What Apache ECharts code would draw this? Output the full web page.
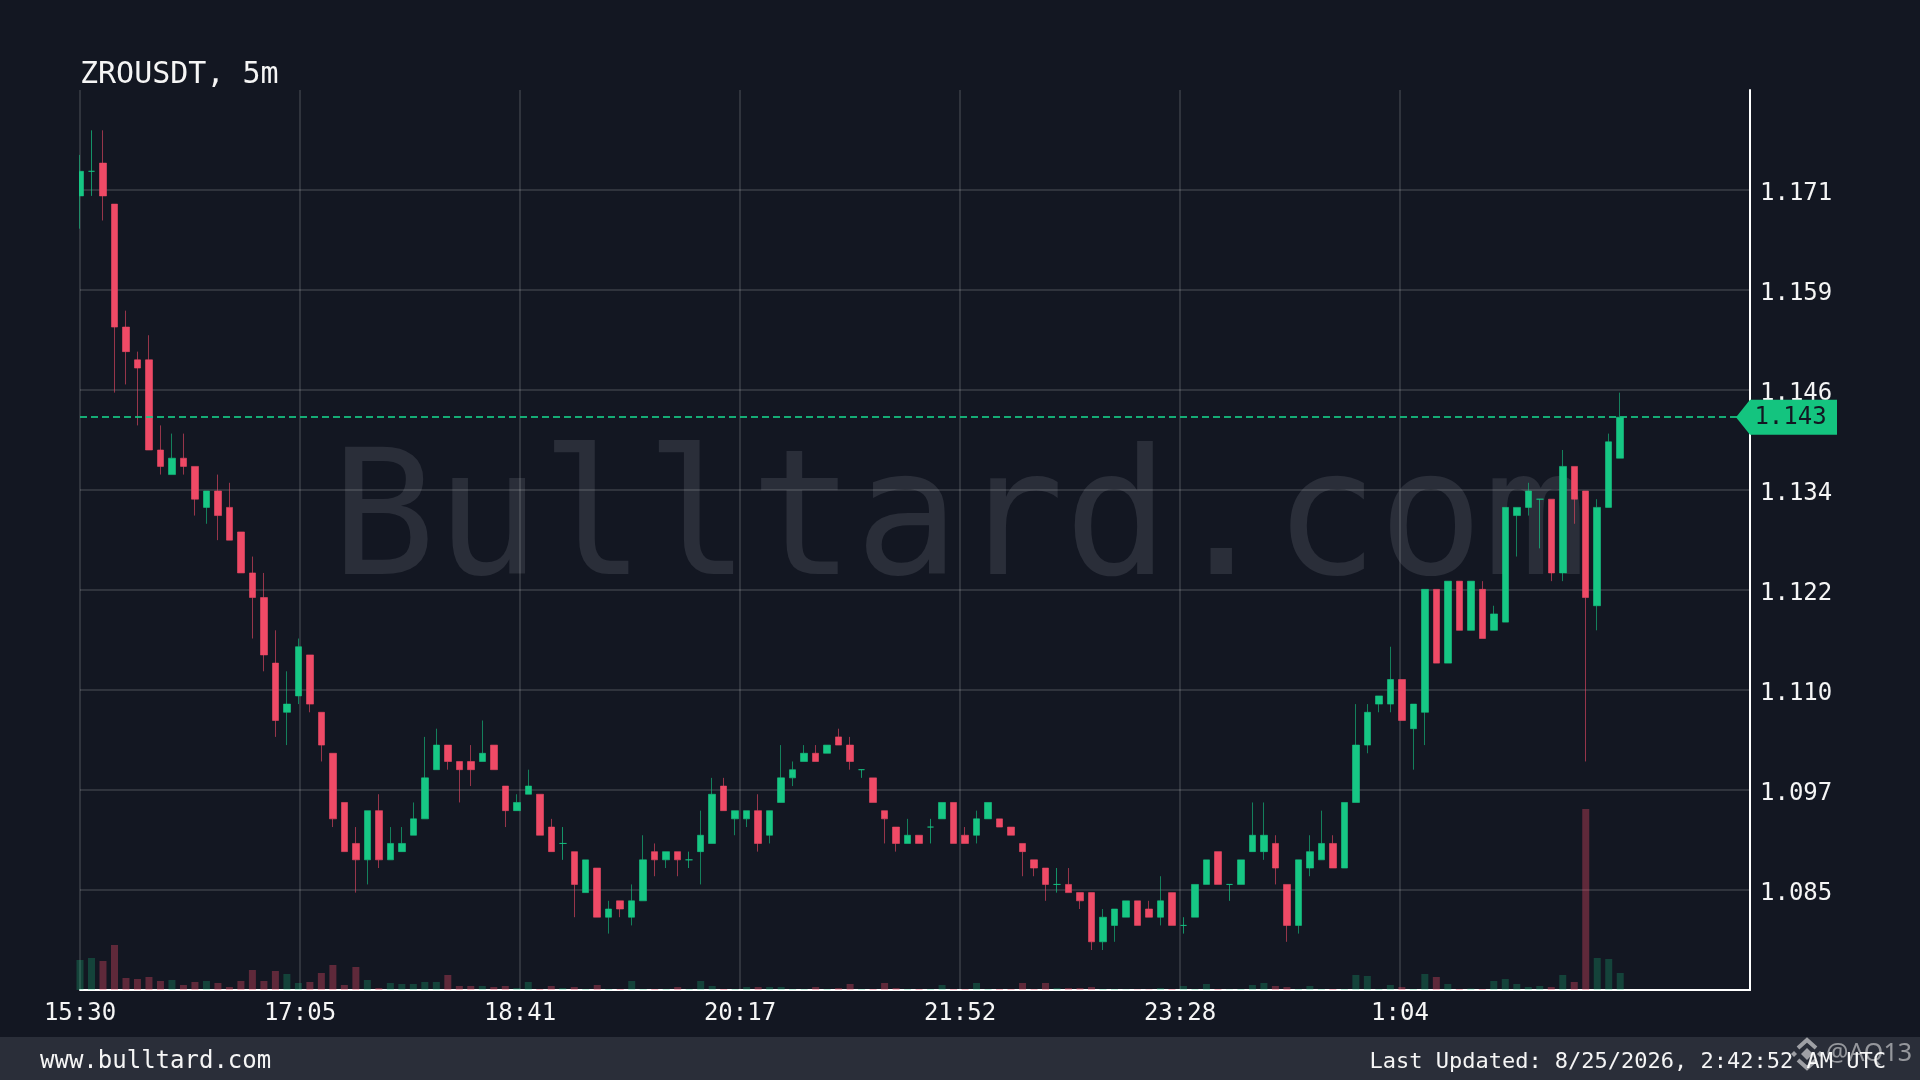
<!DOCTYPE html>
<html>
<head>
<meta charset="utf-8">
<style>html,body{margin:0;padding:0;background:#131722}#c{width:1920px;height:1080px}</style>
<script src="https://cdn.jsdelivr.net/npm/echarts@6/dist/echarts.min.js"></script>
</head>
<body>
<div id="c"></div>
<script>
const symbolTitle = 'ZROUSDT, 5m';
const watermark = 'Bulltard.com';
const footerLeft = 'www.bulltard.com';
const footerRight = 'Last Updated: 8/25/2026, 2:42:52 AM UTC';
const footerTag = '@AQ13';

const opens = [
1.170,1.173,1.174,1.169,1.154,1.150,1.150,1.139,1.136,1.138,
1.137,1.132,1.134,1.132,1.129,1.124,1.121,1.113,1.107,1.109,
1.114,1.107,1.102,1.096,1.091,1.089,1.095,1.089,1.090,1.092,
1.094,1.100,1.103,1.101,1.101,1.101,1.103,1.098,1.095,1.097,
1.097,1.093,1.091,1.090,1.085,1.088,1.082,1.084,1.082,1.084,
1.090,1.089,1.090,1.089,1.090,1.091,1.098,1.094,1.094,1.095,
1.092,1.096,1.099,1.101,1.102,1.102,1.104,1.103,1.100,1.099,
1.095,1.093,1.091,1.092,1.093,1.094,1.096,1.092,1.092,1.094,
1.094,1.093,1.091,1.089,1.088,1.086,1.086,1.085,1.085,1.079,
1.081,1.082,1.084,1.083,1.082,1.085,1.081,1.082,1.086,1.090,
1.086,1.086,1.090,1.090,1.091,1.086,1.081,1.088,1.089,1.091,
1.088,1.096,1.103,1.108,1.108,1.111,1.105,1.107,1.122,1.113,
1.123,1.117,1.122,1.117,1.118,1.131,1.132,1.133,1.133,1.124,
1.137,1.134,1.120,1.132,1.138];
const closes = [
1.173,1.173,1.170,1.154,1.151,1.149,1.139,1.137,1.138,1.137,
1.133,1.134,1.131,1.128,1.124,1.121,1.114,1.106,1.108,1.115,
1.108,1.103,1.094,1.090,1.089,1.095,1.089,1.091,1.091,1.094,
1.099,1.103,1.101,1.100,1.100,1.102,1.100,1.095,1.096,1.098,
1.092,1.090,1.091,1.086,1.089,1.082,1.083,1.083,1.084,1.089,
1.089,1.090,1.089,1.089,1.092,1.097,1.095,1.095,1.095,1.091,
1.095,1.099,1.100,1.102,1.101,1.103,1.103,1.101,1.100,1.096,
1.094,1.091,1.092,1.091,1.093,1.096,1.091,1.091,1.094,1.096,
1.093,1.092,1.090,1.088,1.086,1.086,1.085,1.084,1.079,1.082,
1.083,1.084,1.081,1.082,1.084,1.081,1.081,1.086,1.089,1.086,
1.086,1.089,1.092,1.092,1.088,1.081,1.089,1.090,1.091,1.088,
1.096,1.103,1.107,1.109,1.111,1.106,1.108,1.122,1.113,1.123,
1.117,1.123,1.116,1.119,1.132,1.132,1.134,1.133,1.124,1.137,
1.133,1.121,1.132,1.140,1.143];
const lows = [
1.166,1.170,1.167,1.146,1.147,1.142,1.139,1.136,1.136,1.136,
1.131,1.130,1.128,1.128,1.124,1.116,1.112,1.104,1.103,1.108,
1.107,1.101,1.093,1.090,1.085,1.086,1.088,1.089,1.090,1.092,
1.094,1.100,1.100,1.096,1.098,1.101,1.100,1.093,1.095,1.097,
1.092,1.090,1.089,1.082,1.085,1.082,1.080,1.082,1.081,1.084,
1.087,1.088,1.087,1.088,1.086,1.091,1.095,1.092,1.093,1.090,
1.091,1.096,1.098,1.101,1.101,1.102,1.103,1.100,1.099,1.096,
1.091,1.090,1.091,1.091,1.091,1.094,1.091,1.091,1.091,1.094,
1.093,1.092,1.087,1.087,1.084,1.085,1.085,1.083,1.078,1.078,
1.079,1.082,1.081,1.082,1.081,1.081,1.080,1.082,1.086,1.086,
1.084,1.086,1.090,1.089,1.086,1.079,1.080,1.087,1.089,1.088,
1.088,1.096,1.102,1.107,1.107,1.106,1.100,1.103,1.113,1.113,
1.117,1.117,1.116,1.117,1.118,1.126,1.131,1.127,1.123,1.123,
1.130,1.101,1.117,1.132,1.138];
const highs = [
1.175,1.178,1.178,1.169,1.156,1.151,1.153,1.142,1.141,1.141,
1.137,1.134,1.136,1.135,1.129,1.126,1.124,1.117,1.112,1.116,
1.114,1.107,1.102,1.096,1.093,1.095,1.097,1.093,1.093,1.096,
1.104,1.105,1.103,1.101,1.103,1.106,1.103,1.098,1.097,1.100,
1.097,1.094,1.093,1.090,1.089,1.088,1.084,1.084,1.086,1.092,
1.091,1.090,1.090,1.090,1.095,1.099,1.099,1.095,1.095,1.097,
1.095,1.103,1.101,1.103,1.103,1.103,1.105,1.104,1.100,1.099,
1.095,1.093,1.094,1.092,1.094,1.096,1.096,1.093,1.095,1.096,
1.094,1.093,1.091,1.089,1.088,1.088,1.088,1.085,1.085,1.083,
1.083,1.084,1.084,1.084,1.087,1.085,1.082,1.086,1.089,1.090,
1.086,1.089,1.096,1.096,1.092,1.086,1.089,1.092,1.095,1.092,
1.096,1.108,1.108,1.109,1.115,1.111,1.108,1.122,1.122,1.123,
1.123,1.123,1.123,1.120,1.132,1.132,1.135,1.133,1.133,1.139,
1.137,1.134,1.133,1.141,1.146];
const volumes = [
30,32,29,45,12,11,13,9,10,5,
8,9,7,3,9,20,9,19,16,7,
8,17,25,5,23,10,2,7,6,6,
8,8,15,4,4,4,3,4,2,8,
1,4,2,3,1,5,1,1,9,1,
1,1,3,1,9,4,1,1,3,3,
3,3,1,1,3,1,2,6,1,1,
7,2,1,1,1,5,1,1,7,1,
1,1,7,1,7,2,2,2,3,1,
1,0.5,0.5,0.5,2,1,4,1,6,1,
0.5,1,5,7,4,3,1,4,1,1,
1,15,14,1,5,3,1,16,13,6,
1,1.5,1,9,11,6,3,4,3,15,
8,181,32,31,17];

const xTickValues = [0,95.7,191.4,287.1,382.8,478.5,574.2];
const xTickLabels = ['15:30','17:05','18:41','20:17','21:52','23:28','1:04'];
const yTickValues = [1.0853,1.0975,1.1097,1.1219,1.1341,1.1463,1.1585,1.1707];
const yTickLabels = ['1.085','1.097','1.110','1.122','1.134','1.146','1.159','1.171'];
const lastPrice = 1.143;
const candleMinutes = 5;

const GREEN = '#16c784';
const RED = '#ef4a66';
const BG = '#131722';
const FONT = '"DejaVu Sans Mono", monospace';

const candleData = opens.map((o, i) => [i * candleMinutes, o, closes[i], lows[i], highs[i]]);
const volumeData = volumes.map((v, i) => ({
  value: [i * candleMinutes, v],
  itemStyle: { color: closes[i] >= opens[i] ? 'rgba(22,199,132,0.25)' : 'rgba(239,74,102,0.35)' }
}));

const chart = echarts.init(document.getElementById('c'), null, { width: 1920, height: 1080, renderer: 'canvas' });
chart.setOption({
  animation: false,
  backgroundColor: BG,
  title: {
    text: symbolTitle, left: 75, top: 55,
    textStyle: { color: '#f5f5f5', fontFamily: FONT, fontSize: 30, fontWeight: 'normal' }
  },
  grid: { left: 80, top: 90, width: 1670, height: 900, containLabel: false },
  xAxis: {
    type: 'value', min: 0, max: 726.45,
    axisLine: { show: true, onZero: false, lineStyle: { color: '#ffffff', width: 2 } },
    axisTick: { show: false, customValues: xTickValues },
    axisLabel: {
      customValues: xTickValues, color: '#f5f5f5', fontFamily: FONT, fontSize: 24, margin: 12,
      formatter: v => xTickLabels[xTickValues.indexOf(v)]
    },
    splitLine: { show: true, lineStyle: { color: 'rgba(255,255,255,0.17)', width: 1.5 } }
  },
  yAxis: [{
    type: 'value', position: 'right', min: 1.07312, max: 1.18292, scale: true,
    axisLine: { show: true, onZero: false, lineStyle: { color: '#ffffff', width: 2 } },
    axisTick: { show: false, customValues: yTickValues },
    axisLabel: {
      customValues: yTickValues, color: '#f5f5f5', fontFamily: FONT, fontSize: 24, margin: 10, align: 'left',
      verticalAlign: 'top', lineHeight: 8,
      formatter: v => yTickLabels[yTickValues.indexOf(v)]
    },
    splitLine: { show: true, lineStyle: { color: 'rgba(255,255,255,0.17)', width: 1.5 } }
  }, {
    type: 'value', min: 0, max: 900, show: false, splitLine: { show: false }
  }],
  graphic: [
    { type: 'text', z: -5, x: 331, y: 529, style: { text: watermark, fill: '#2a2e39', font: '174px ' + FONT, textAlign: 'left', textVerticalAlign: 'middle' } },
    { type: 'rect', z: 5, shape: { x: 60, y: 120, width: 19, height: 120 }, style: { fill: BG } },
    { type: 'rect', z: 5, shape: { x: 0, y: 1037, width: 1920, height: 43 }, style: { fill: '#2a2e39' } },
    { type: 'text', z: 6, x: 40, y: 1062, style: { text: footerLeft, fill: '#f5f5f5', font: '24px ' + FONT, textAlign: 'left', textVerticalAlign: 'middle' } },
    { type: 'text', z: 6, x: 1886, y: 1062, style: { text: footerRight, fill: '#f5f5f5', font: '22px ' + FONT, textAlign: 'right', textVerticalAlign: 'middle' } },
    { type: 'text', z: 7, x: 1912, y: 1054, style: { text: footerTag, fill: 'rgba(255,255,255,0.5)', font: '25px "Noto Sans", sans-serif', textAlign: 'right', textVerticalAlign: 'middle' } },
    { type: 'polygon', z: 7, shape: { points: [[1807,1048],[1813,1054],[1807,1060],[1801,1054]] }, style: { fill: 'rgba(255,255,255,0.55)' } },
    { type: 'polyline', z: 7, shape: { points: [[1798,1048],[1807,1040],[1816,1048]] }, style: { stroke: 'rgba(255,255,255,0.55)', lineWidth: 4, fill: 'none' } },
    { type: 'polyline', z: 7, shape: { points: [[1798,1060],[1807,1068],[1816,1060]] }, style: { stroke: 'rgba(255,255,255,0.55)', lineWidth: 4, fill: 'none' } },
    { type: 'polygon', z: 7, shape: { points: [[1794,1051],[1797,1054],[1794,1057],[1791,1054]] }, style: { fill: 'rgba(255,255,255,0.55)' } },
    { type: 'polygon', z: 7, shape: { points: [[1820,1051],[1823,1054],[1820,1057],[1817,1054]] }, style: { fill: 'rgba(255,255,255,0.55)' } }
  ],
  series: [{
    type: 'bar', name: 'Volume', xAxisIndex: 0, yAxisIndex: 1, data: volumeData, barWidth: 7, z: 1, silent: true
  }, {
    type: 'candlestick', name: 'ZROUSDT', xAxisIndex: 0, yAxisIndex: 0, data: candleData, barWidth: 7, z: 2, silent: true,
    itemStyle: {
      color: GREEN, color0: RED,
      borderColor: 'rgba(22,199,132,0.6)', borderColor0: 'rgba(239,74,102,0.6)', borderColorDoji: 'rgba(22,199,132,0.7)',
      borderWidth: 1
    },
    markLine: {
      silent: true, symbol: 'none', animation: false, precision: 3, label: { show: false },
      lineStyle: { color: 'rgba(22,199,132,0.85)', type: [7, 4], width: 2 },
      data: [{ yAxis: lastPrice }]
    },
    markPoint: {
      silent: true, animation: false,
      symbol: 'path://M0 17.5 L14 0 L101 0 L101 35 L14 35 Z',
      symbolSize: [101, 35], symbolKeepAspect: false, symbolOffset: [36.5, 0],
      itemStyle: { color: '#14c47f' },
      label: { show: true, position: 'inside', offset: [4, 1], color: '#131722', fontFamily: FONT, fontSize: 24, formatter: () => lastPrice.toFixed(3) },
      data: [{ coord: [726.45, lastPrice] }]
    }
  }]
});
</script>
</body>
</html>
